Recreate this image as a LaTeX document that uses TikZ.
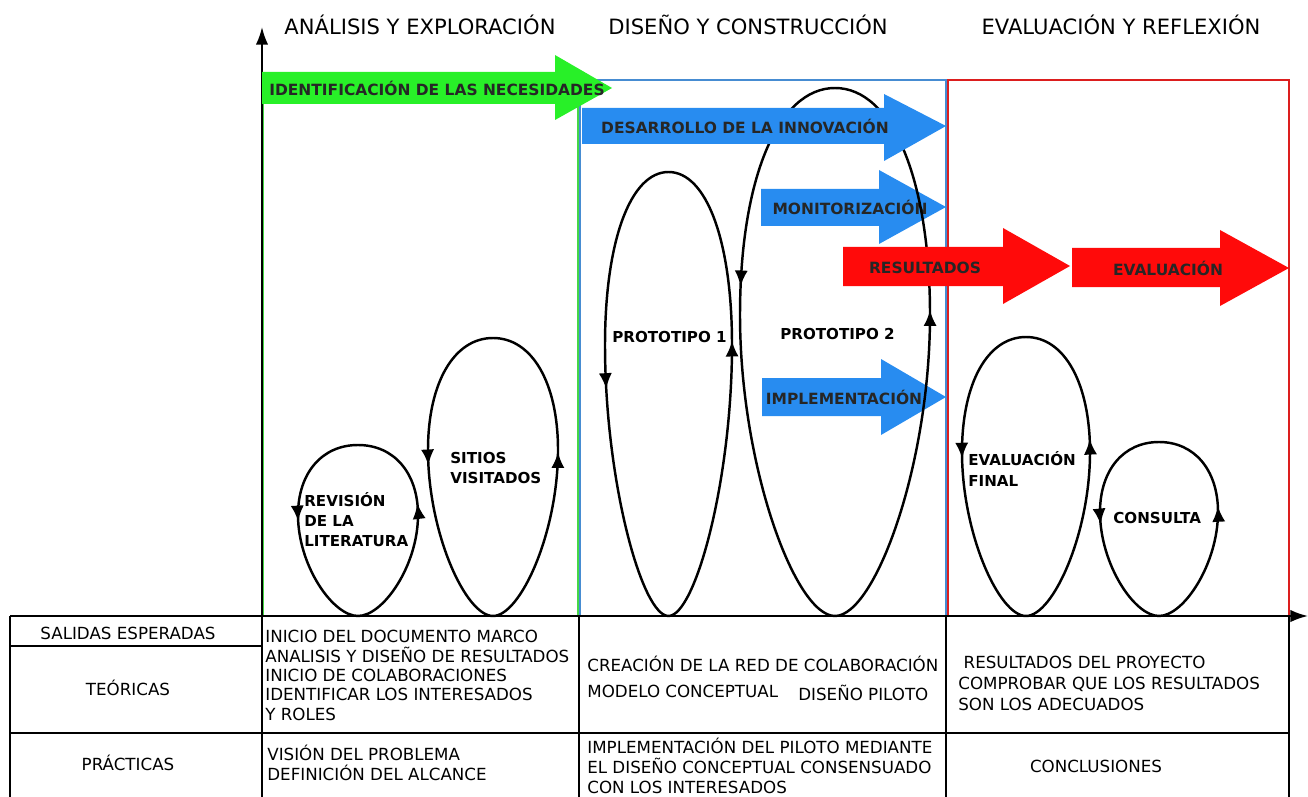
\documentclass[tikz,border=0pt]{standalone}
\usepackage{fontspec}
\setmainfont{DejaVu Sans}
\usepackage{tikz}
\usetikzlibrary{calc, positioning, arrows.meta, decorations.markings}

\definecolor{needgreen}{RGB}{40,240,40}
\definecolor{innoblue}{RGB}{40,140,240}
\definecolor{resred}{RGB}{255,10,10}
\definecolor{greenline}{RGB}{70,215,70}
\definecolor{blueline}{RGB}{70,140,210}
\definecolor{redline}{RGB}{220,30,30}

\begin{document}
\begin{tikzpicture}[x=0.02cm, y=-0.02cm,
    boxline/.style={line width=1.1pt},
    tableline/.style={line width=1.1pt},
    loopline/.style={line width=1.4pt},
    header/.style={font=\fontsize{12}{14}\selectfont, inner sep=0pt},
    arrowtext/.style={font=\fontsize{8.8}{10}\selectfont\bfseries, text=black!85, inner sep=0pt},
    looptext/.style={font=\fontsize{8.6}{11.4}\selectfont\bfseries, align=left, anchor=west, inner sep=0pt},
    tabletext/.style={font=\fontsize{9.5}{11}\selectfont, align=left, anchor=north west, inner sep=0pt}]
    \useasboundingbox (0,0) rectangle (1308,797);

    % stage boxes
    \draw[boxline, greenline] (263,80) rectangle (578,616);
    \draw[boxline, blueline] (580,80) rectangle (946,616);
    \draw[boxline, redline] (948,80) rectangle (1289,616);

    % headers
    \node[header] (analisis) at (420,25) {ANÁLISIS Y EXPLORACIÓN};
    \node[header] (diseno) at (748,25) {DISEÑO Y CONSTRUCCIÓN};
    \node[header] (reflexion) at (1121,25) {EVALUACIÓN Y REFLEXIÓN};

    % axes
    \coordinate (origin) at (262,616);
    \coordinate (ytop) at (262,27);
    \coordinate (tableleft) at (10,616);
    \coordinate (xend) at (1308,616);
    \draw[tableline, -{Latex[length=10pt,width=7pt]}] (origin) -- (ytop);
    \draw[tableline, -{Latex[length=10pt,width=7pt]}] (tableleft) -- (xend);

    % table
    \draw[tableline] (10,616) -- (10,797);
    \draw[tableline] (262,616) -- (262,797);
    \draw[tableline] (579,616) -- (579,797);
    \draw[tableline] (946,616) -- (946,797);
    \draw[tableline] (1289,616) -- (1289,797);
    \draw[tableline] (10,646) -- (262,646);
    \draw[tableline] (10,733) -- (1289,733);

    \node[font=\fontsize{9.5}{11}\selectfont] (salidas) at (128,633) {SALIDAS ESPERADAS};
    \node[font=\fontsize{9.5}{11}\selectfont] (teoricas) at (128,688) {TEÓRICAS};
    \node[font=\fontsize{9.5}{11}\selectfont] (practicas) at (128,763) {PRÁCTICAS};
    \node[tabletext] (teo1) at (265,630) {INICIO DEL DOCUMENTO MARCO\\ANALISIS Y DISEÑO DE RESULTADOS\\INICIO DE COLABORACIONES\\IDENTIFICAR LOS INTERESADOS\\Y ROLES};
    \node[tabletext] (pra1) at (267,745) {VISIÓN DEL PROBLEMA\\DEFINICIÓN DEL ALCANCE};
    \node[tabletext] (creacion) at (587,656) {CREACIÓN DE LA RED DE COLABORACIÓN};
    \node[tabletext] (modelo) at (587,685) {MODELO CONCEPTUAL};
    \node[tabletext] (piloto) at (798,685) {DISEÑO PILOTO};
    \node[tabletext, font=\fontsize{9.5}{11.2}\selectfont] (pra2) at (587,738) {IMPLEMENTACIÓN DEL PILOTO MEDIANTE\\EL DISEÑO CONCEPTUAL CONSENSUADO\\CON LOS INTERESADOS};
    \node[tabletext, font=\fontsize{9.5}{12}\selectfont] (teo3) at (958,656) {\ RESULTADOS DEL PROYECTO\\COMPROBAR QUE LOS RESULTADOS\\SON LOS ADECUADOS};
    \node[font=\fontsize{9.5}{11}\selectfont] (conclusiones) at (1096,766) {CONCLUSIONES};

    % arrows under the loops
    \fill[innoblue] (761,189) -- (879,189) -- (879,170) -- (946,207) -- (879,244) -- (879,226) -- (761,226) -- cycle;
    \node[arrowtext] (monitor) at (850,207) {MONITORIZACIÓN};
    \fill[innoblue] (762,378) -- (881,378) -- (881,359) -- (946,397) -- (881,435) -- (881,416) -- (762,416) -- cycle;
    \node[arrowtext] (implementa) at (844,397) {IMPLEMENTACIÓN};

    % loops: left x / right x / top y / widest y / down mark / up mark
    \foreach \xl/\xr/\yt/\ym/\pd/\pu in {298/418/445/515/0.24/0.80,
                                         428/558/338/450/0.24/0.78,
                                         605/732/172/345/0.25/0.80,
                                         740/930/88/315/0.20/0.78,
                                         962/1090/337/452/0.23/0.80,
                                         1100/1218/442/512/0.25/0.79} {
        \pgfmathsetmacro{\cx}{(\xl+\xr)/2}
        \pgfmathsetmacro{\hw}{(\xr-\xl)/2}
        \pgfmathsetmacro{\bt}{\ym-\yt}
        \pgfmathsetmacro{\bb}{616-\ym}
        \draw[loopline, postaction={decorate}, decoration={markings,
                mark=at position \pd with {\arrow{Latex[length=9pt,width=7.5pt]}},
                mark=at position \pu with {\arrow{Latex[length=9pt,width=7.5pt]}}}]
            (\cx,\yt) .. controls (\cx-0.6*\hw,\yt) and (\xl,\ym-0.6*\bt) .. (\xl,\ym)
            .. controls (\xl,\ym+0.5*\bb) and (\cx-0.42*\hw,616) .. (\cx,616)
            .. controls (\cx+0.42*\hw,616) and (\xr,\ym+0.5*\bb) .. (\xr,\ym)
            .. controls (\xr,\ym-0.6*\bt) and (\cx+0.6*\hw,\yt) .. (\cx,\yt);
    }

    \node[looptext] (revision) at (304,520) {REVISIÓN\\DE LA\\LITERATURA};
    \node[looptext] (sitios) at (450,468) {SITIOS\\VISITADOS};
    \node[looptext] (proto1) at (612,337) {PROTOTIPO 1};
    \node[looptext] (proto2) at (780,334) {PROTOTIPO 2};
    \node[looptext] (evalfinal) at (968,469) {EVALUACIÓN\\FINAL};
    \node[looptext] (consulta) at (1113,518) {CONSULTA};

    % arrows over the loops
    \fill[innoblue] (582,108) -- (884,108) -- (884,94) -- (946,126) -- (884,161) -- (884,144) -- (582,144) -- cycle;
    \node[arrowtext] (innovacion) at (745,126) {DESARROLLO DE LA INNOVACIÓN};
    \fill[resred] (843,247) -- (1003,247) -- (1003,228) -- (1070,266) -- (1003,304) -- (1003,286) -- (843,286) -- cycle;
    \node[arrowtext] (resultados) at (925,268) {RESULTADOS};
    \fill[resred] (1072,248) -- (1220,248) -- (1220,230) -- (1289,268) -- (1220,306) -- (1220,287) -- (1072,287) -- cycle;
    \node[arrowtext] (evaluacion) at (1168,268) {EVALUACIÓN};
    \fill[needgreen] (262,72) -- (555,72) -- (555,55) -- (612,88) -- (555,120) -- (555,104) -- (262,104) -- cycle;
    \node[arrowtext] (necesidades) at (437,88) {IDENTIFICACIÓN DE LAS NECESIDADES};
\end{tikzpicture}
\end{document}
